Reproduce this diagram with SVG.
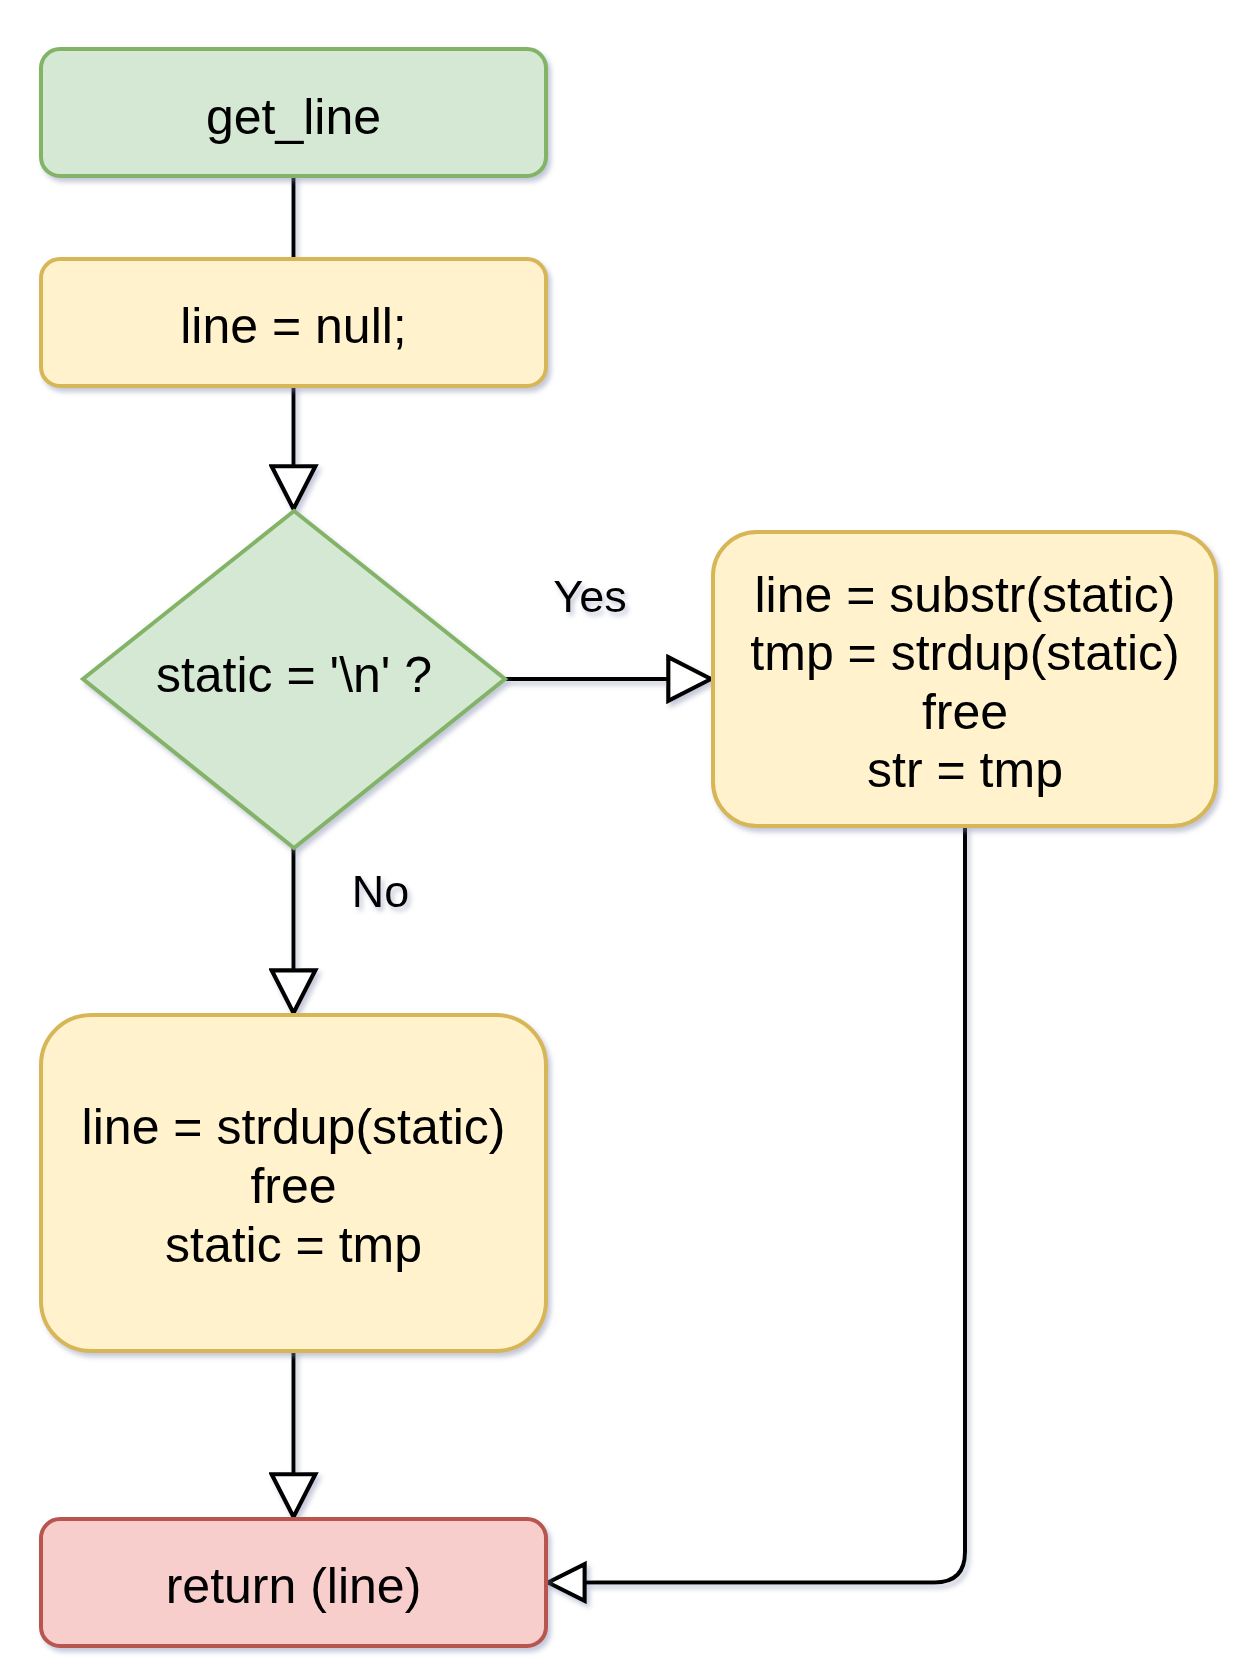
<svg xmlns="http://www.w3.org/2000/svg" width="1250" height="1668" viewBox="0 0 1250 1668">
  <defs>
    <filter id="shadow" x="-10%" y="-10%" width="130%" height="130%">
      <feDropShadow dx="3" dy="4" stdDeviation="2.5" flood-color="#7d82a8" flood-opacity="0.45"/>
    </filter>
    <marker id="arrow" markerUnits="userSpaceOnUse" markerWidth="50" markerHeight="50" viewBox="-3 -3 48 48" refX="41" refY="21" orient="auto">
      <path d="M0,0 L41,21 L0,42 Z" fill="#ffffff" stroke="#000000" stroke-width="4" stroke-linejoin="miter"/>
    </marker>
    <marker id="arrowSmall" markerUnits="userSpaceOnUse" markerWidth="44" markerHeight="44" viewBox="-3 -3 42 42" refX="35" refY="17.5" orient="auto">
      <path d="M0,0 L35,17.5 L0,35 Z" fill="#ffffff" stroke="#000000" stroke-width="4" stroke-linejoin="miter"/>
    </marker>
  </defs>
  <style>
    .green { fill: #d5e8d4; stroke: #82b366; stroke-width: 4; }
    .yellow { fill: #fff2cc; stroke: #d6b656; stroke-width: 4; }
    .red { fill: #f8cecc; stroke: #b85450; stroke-width: 4; }
    .label { font-family: "Liberation Sans", Arial, Helvetica, sans-serif; font-size: 50px; fill: #000000; text-anchor: middle; }
    .edge-label { font-family: "Liberation Sans", Arial, Helvetica, sans-serif; font-size: 45px; fill: #000000; text-anchor: middle; }
    .edge { fill: none; stroke: #000000; stroke-width: 4; }
  </style>
  <rect width="1250" height="1668" fill="#ffffff"/>

  <g id="connectors" filter="url(#shadow)">
    <path class="edge" d="M293.5 176 V259"/>
    <path class="edge" d="M293.5 386 V509" marker-end="url(#arrow)"/>
    <path class="edge" d="M505 679 H711" marker-end="url(#arrow)"/>
    <path class="edge" d="M293.5 848 V1013" marker-end="url(#arrow)"/>
    <path class="edge" d="M293.5 1351 V1517" marker-end="url(#arrow)"/>
    <path class="edge" d="M965 826 V1552 Q965 1582.5 934.5 1582.5 H548" marker-end="url(#arrowSmall)"/>
  </g>

  <g id="edge-labels" filter="url(#shadow)">
    <text class="edge-label" x="590" y="612">Yes</text>
    <text class="edge-label" x="380.5" y="907">No</text>
  </g>

  <g id="node-get-line" filter="url(#shadow)">
    <rect class="green" x="41" y="49" width="505" height="127" rx="19" ry="19"/>
    <text class="label" x="293.5" y="134">get_line</text>
  </g>

  <g id="node-line-null" filter="url(#shadow)">
    <rect class="yellow" x="41" y="259" width="505" height="127" rx="19" ry="19"/>
    <text class="label" x="293.5" y="343">line = null;</text>
  </g>

  <g id="node-decision" filter="url(#shadow)">
    <polygon class="green" points="294,511 505,679 294,848 83,679"/>
    <text class="label" x="294" y="692">static = '\n' ?</text>
  </g>

  <g id="node-yes-branch" filter="url(#shadow)">
    <rect class="yellow" x="713" y="532" width="503" height="294" rx="44" ry="44"/>
    <text class="label" x="965" y="612">line = substr(static)</text>
    <text class="label" x="965" y="670">tmp = strdup(static)</text>
    <text class="label" x="965" y="729">free</text>
    <text class="label" x="965" y="787">str = tmp</text>
  </g>

  <g id="node-no-branch" filter="url(#shadow)">
    <rect class="yellow" x="41" y="1015" width="505" height="336" rx="50" ry="50"/>
    <text class="label" x="293.5" y="1144">line = strdup(static)</text>
    <text class="label" x="293.5" y="1203">free</text>
    <text class="label" x="293.5" y="1262">static = tmp</text>
  </g>

  <g id="node-return" filter="url(#shadow)">
    <rect class="red" x="41" y="1519" width="505" height="127" rx="19" ry="19"/>
    <text class="label" x="293.5" y="1603">return (line)</text>
  </g>
</svg>
